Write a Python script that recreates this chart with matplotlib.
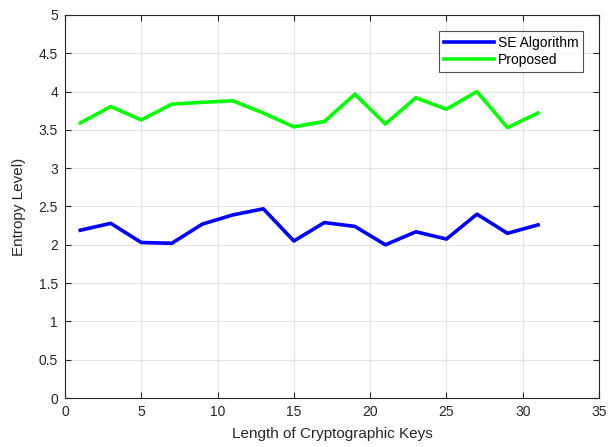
import matplotlib
matplotlib.use("Agg")
import matplotlib.pyplot as plt

key_length = [1, 3, 5, 7, 9, 11, 13, 15, 17, 19, 21, 23, 25, 27, 29, 31]
se_algorithm = [2.19, 2.28, 2.03, 2.02, 2.27, 2.39, 2.47, 2.05, 2.29, 2.24,
                2.00, 2.17, 2.075, 2.40, 2.15, 2.26]
proposed = [3.59, 3.805, 3.63, 3.836, 3.86, 3.88, 3.72, 3.54, 3.61, 3.966,
            3.578, 3.92, 3.77, 4.00, 3.53, 3.72]

plt.rcParams["font.family"] = ["Liberation Sans", "DejaVu Sans"]

fig = plt.figure(figsize=(6.09, 4.47), dpi=100)
ax = fig.add_axes([65 / 609, 1 - 398 / 447, 534 / 609, 383 / 447])

ax.plot(key_length, se_algorithm, color="#0000ff", lw=2.6, label="SE Algorithm")
ax.plot(key_length, proposed, color="#00ff00", lw=2.6, label="Proposed")

ax.set_xlim(0, 35)
ax.set_ylim(0, 5)
ax.set_xticks(range(0, 36, 5))
ax.set_yticks([i * 0.5 for i in range(11)])
ax.set_yticklabels(["0", "0.5", "1", "1.5", "2", "2.5", "3", "3.5", "4", "4.5", "5"])
ax.grid(True, color="#e3e3e3", lw=0.8)
ax.set_axisbelow(True)
ax.tick_params(direction="in", length=4, width=0.8, colors="#262626",
               labelsize=10, top=True, right=True, pad=5)
for s in ax.spines.values():
    s.set_color("#262626")
    s.set_linewidth(0.8)

ax.set_xlabel("Length of Cryptographic Keys", fontsize=11, color="#262626", labelpad=6)
ax.set_ylabel("Entropy Level)", fontsize=11, color="#262626", labelpad=9)

leg = ax.legend(loc="upper right", bbox_to_anchor=(583 / 609, 1 - 31 / 447),
                bbox_transform=fig.transFigure, fontsize=10, frameon=True,
                fancybox=False, edgecolor="#262626", handlelength=3.6,
                borderpad=0.35, labelspacing=0.2, handletextpad=0.25,
                borderaxespad=0)
leg.get_frame().set_linewidth(0.8)

fig.savefig("out.png", dpi=100)
